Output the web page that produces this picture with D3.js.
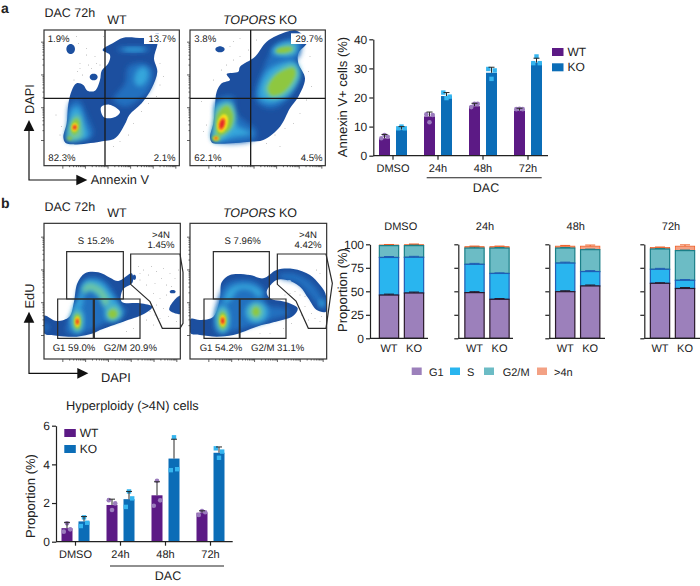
<!DOCTYPE html>
<html><head><meta charset="utf-8">
<script src="https://cdn.jsdelivr.net/npm/d3@7"></script>
<style>html,body{margin:0;background:#fff}svg{display:block}text{font-family:"Liberation Sans",Arial,sans-serif;fill:#222;text-rendering:geometricPrecision}</style>
</head><body><svg id="c" width="700" height="586"></svg>
<script>
// ---------- DATA ----------
const groups=["DMSO","24h","48h","72h"];
const genotypes=["WT","KO"];
const annexinWT=[6.0,13.5,17.0,15.5];
const annexinKO=[9.0,20.5,28.5,32.0];
const annexinWTPts=[[6,7.1,6.5],[14.2,11.5,14],[16.7,17.8,17.8],[16,16.1,16]];
const annexinKOPts=[[9.4,10,9.4],[21.7,19.8,20.3],[29.8,26.4,29.3],[31.8,34.1,31.8]];
const annexinWTErr=[7.3,15,18,16.3];
const annexinKOErr=[10,21.7,30.4,33.5];
const hyperWT=[0.7,1.9,2.4,1.5];
const hyperKO=[1.05,2.2,4.3,4.6];
const hyperWTPts=[[0.52,0.95,0.64],[2.15,1.64,1.98],[1.86,3.15,2.14],[1.38,1.59,1.52]];
const hyperKOPts=[[0.81,1.26,0.98],[1.8,2.6,2.24],[3.7,5.4,3.75],[4.83,4.34,4.66]];
const hyperWTErr=[1.0,2.2,3.1,1.6];
const hyperKOErr=[1.3,2.6,5.3,4.9];
const phases=["G1","S","G2/M",">4n"];
// order: DMSO WT, DMSO KO, 24h WT, 24h KO, 48h WT, 48h KO, 72h WT, 72h KO
const phaseG1=[46,48.2,48.6,41.5,49.6,55.7,58.5,53];
const phaseS=[40,38,30.1,27.5,30.4,15.3,14.9,8.7];
const phaseG2M=[12.6,12.4,17.3,27,16,23.3,21.6,31.6];
const phaseGt4=[0.7,1,1.5,1.5,2,3.7,1.5,4.7];
const phaseErr=[[1,1,1,0.5],[1,1,1,0.7],[1,1,1,0.6],[0.8,0.6,0.6,0.6],[1,1,0.6,0.8],[1,1,0.6,1.2],[0.6,1,0.6,0.6],[1,0.8,0.6,1.4]];

// density contours, in crop-reading units (3 units = 1 px)
const oval=(cx,cy,rx,ry,rot=0)=>d3.range(10).map(i=>{const t=i/10*2*Math.PI,r=rot*Math.PI/180,a=rx*Math.cos(t),b=ry*Math.sin(t);return[cx+a*Math.cos(r)-b*Math.sin(r),cy+a*Math.sin(r)+b*Math.cos(r)];});
const densityAWT=[
 [0,[[190,412],[196,428],[218,433],[300,425],[345,415],[375,372],[388,345],[425,310],[455,265],[472,215],[462,175],[472,135],[476,100],[440,113],[370,113],[338,130],[308,150],[330,165],[325,190],[305,212],[300,240],[285,272],[262,272],[250,255],[230,250],[215,272],[205,312],[200,370]]],
 [0,oval(281,231,12,10)],[0,oval(212,147,13,15)],
 ["w",[[303,322],[328,314],[360,335],[345,351],[312,352]]],
 [1,[[340,300],[375,250],[385,200],[430,190],[458,210],[450,265],[415,300],[375,320]]],
 [1,oval(400,148,50,10)],
 [2,oval(402,149,34,5)],
 [2,oval(424,230,20,30,20)],
 [1,[[210,310],[235,300],[262,350],[280,405],[240,422],[200,422],[204,370]]],
 [2,[[213,330],[235,320],[252,365],[265,410],[235,418],[203,420],[208,370]]],
 [3,[[217,355],[236,345],[246,385],[245,412],[215,420],[205,405]]],
 [4,oval(226,380,12,24,10)],
 [4,oval(209,415,8,6)],
 [5,oval(224,382,9,13,10)],
 [6,oval(224,382,7,9,10)],
 [7,oval(224,382,4,5,10)],
];
const densityAKO=[
 [0,[[630,412],[636,428],[660,431],[750,425],[790,420],[840,380],[870,325],[895,290],[915,235],[895,190],[895,160],[922,125],[890,92],[860,95],[800,125],[765,170],[720,200],[715,215],[680,222],[690,240],[665,250],[650,275],[645,320],[640,370]]],
 [0,oval(660,148,14,9)],
 [1,[[650,300],[700,290],[710,340],[770,395],[760,420],[660,428],[636,415],[645,360]]],
 [1,[[765,290],[790,205],[830,135],[900,115],[900,165],[880,190],[895,230],[865,295],[820,325],[780,315]]],
 [2,[[775,280],[805,210],[885,185],[900,220],[865,285],[810,310],[780,298]]],
 [2,[[815,155],[835,132],[890,128],[885,162],[840,168]]],
 [2,[[648,315],[690,305],[710,375],[755,400],[700,412],[645,425],[638,410],[645,360]]],
 [3,[[795,270],[820,225],[880,195],[895,225],[860,280],[815,295]]],
 [3,[[825,155],[850,138],[882,138],[882,155],[845,162]]],
 [3,[[652,325],[690,310],[706,345],[695,385],[645,420],[642,390]]],
 [4,[[805,265],[830,225],[880,205],[885,225],[850,275],[815,285]]],
 [4,oval(852,150,25,8,-8)],
 [4,[[652,345],[680,318],[698,345],[688,388],[655,405],[650,380]]],
 [5,oval(668,370,15,28,15)],
 [6,oval(666,372,10,20,15)],
 [7,oval(666,372,6,14,15)],
 [4,oval(648,415,12,8)],
 [5,oval(648,415,8,6)],
 [7,oval(648,415,4,4)],
];
const densityBWT=[
 [0,[[132,362],[170,378],[208,365],[222,320],[232,265],[255,235],[295,232],[330,248],[355,258],[395,235],[398,262],[368,285],[365,320],[420,325],[457,335],[430,358],[370,380],[300,405],[280,415],[230,425],[170,422],[132,415]]],
 [0,oval(403,247,5,8)],[0,oval(518,290,9,5)],
 [0,[[548,300],[526,312],[508,345],[548,356]]],
 [1,[[225,350],[235,285],[258,250],[300,250],[335,280],[362,335],[380,342],[362,372],[320,382],[290,398],[230,418],[200,412],[205,375]]],
 [1,[[132,385],[150,395],[132,410]]],
 [2,[[240,300],[255,260],[300,260],[332,295],[365,350],[352,375],[322,375],[310,325],[280,290],[255,290],[245,335],[220,345]]],
 [2,oval(232,375,20,40)],
 [3,[[248,280],[265,265],[303,278],[328,320],[315,335],[295,298],[270,284],[252,295]]],
 [3,[[322,345],[345,333],[362,358],[348,371],[327,373]]],
 [3,oval(232,378,14,30)],
 [4,oval(338,357,13,13)],
 [4,oval(232,380,10,23)],
 [5,oval(232,380,7,16)],
 [6,oval(232,380,5,11)],
 [7,oval(232,380,3,7)],
];
const densityBKO=[
 [0,[[572,372],[600,375],[640,365],[660,310],[665,262],[690,240],[750,240],[790,250],[830,225],[880,222],[930,240],[960,270],[976,295],[978,350],[950,345],[925,310],[900,275],[860,255],[830,255],[800,290],[810,310],[860,322],[893,340],[880,362],[820,382],[770,395],[700,420],[650,425],[600,420],[572,415]]],
 [0,oval(576,395,6,20)],
 ["w",oval(705,320,11,11)],
 ["w",oval(868,260,6,5)],
 [1,[[642,398],[652,320],[682,265],[750,255],[792,282],[798,328],[858,342],[866,355],[800,378],[700,408],[652,413]]],
 [1,[[835,240],[880,235],[928,258],[955,288],[968,315],[972,340],[955,332],[925,295],[890,262],[842,250]]],
 [2,[[672,330],[682,288],[710,270],[760,272],[786,292],[778,308],[750,286],[715,286],[695,312]]],
 [2,oval(668,372,21,43)],
 [2,oval(770,352,35,32)],
 [2,oval(966,325,8,11)],
 [3,oval(668,374,15,33)],
 [3,oval(768,350,21,23)],
 [4,oval(668,376,11,25)],
 [4,oval(768,350,10,13)],
 [5,oval(668,377,8,17)],
 [6,oval(668,377,6,12)],
 [7,oval(668,378,4,8)],
];
const dotsAWT=[[205,115],[235,130],[260,145],[285,170],[240,190],[265,195],[290,190],[232,215],[248,225],[222,240],[260,165],[300,195],[275,205],[240,205],[480,190],[490,230],[480,255],[470,290],[445,310],[425,335],[400,370],[385,405],[360,425],[340,440],[180,405],[185,380],[168,345],[465,130],[230,110],[310,110]];
const dotsAKO=[[690,140],[700,125],[720,115],[745,150],[720,170],[700,180],[680,195],[665,210],[640,240],[605,305],[930,170],[925,215],[935,260],[920,300],[900,340],[880,370],[855,385],[825,405],[800,430],[840,440],[610,395],[620,375],[770,120],[630,115]];
const dotsBWT=[[415,215],[430,225],[445,240],[470,230],[490,220],[510,235],[420,255],[440,270],[465,265],[485,250],[500,270],[525,250],[460,295],[480,310],[500,300],[515,275],[470,330],[490,340],[505,365],[480,370],[465,360],[420,235],[455,215],[535,225],[450,350],[460,390],[440,375],[400,400],[380,410],[530,380]];
const dotsBKO=[[950,225],[960,235],[855,300],[870,295],[885,290],[900,300],[915,335],[935,355],[945,370],[960,380],[925,375],[905,360],[875,385],[850,400],[810,415],[780,415],[940,330],[965,365],[915,305]];

const palette=["#1d4f9f","#2470bf","#35a6dc","#6fc7a2","#8ec740","#f7e61f","#f6901e","#e3202a"];
const colWT="#5c1a85",colKO="#0b6db7",ptWT="#9b7cbd",ptKO="#35b5ef";
const phaseFill=["#9c80bb","#29b5ef","#6cbcc5","#f3a184"];
const phaseStroke=["#2a1a2c","#1f5fb5","#1b7f88","#ee5f27"];

// ---------- SCALES ----------
const svg=d3.select("#c");
const defs=svg.append("defs");
const blurDef=(id,s)=>defs.append("filter").attr("id",id).attr("x","-40%").attr("y","-40%").attr("width","180%").attr("height","180%").append("feGaussianBlur").attr("stdDeviation",s);
blurDef("b0",0.7);blurDef("b1",2.6);blurDef("b2",1.6);blurDef("b3",0.8);
const blurOf=l=>l==="w"||l===0?"url(#b0)":l<=3?"url(#b1)":l==4?"url(#b2)":"url(#b3)";
const sx=d3.scaleLinear().domain([0,1020]).range([0,340]);
const syA=d3.scaleLinear().domain([0,570]).range([0,190]);
const syB=d3.scaleLinear().domain([0,540]).range([195,375]);
const F="#222";

function txt(x,y,s,o={}){const t=svg.append("text").attr("x",x).attr("y",y).attr("font-size",o.size||11).attr("text-anchor",o.anchor||"start").text(s);
 if(o.bold)t.attr("font-weight","bold"); if(o.rot!=null)t.attr("transform",`rotate(${o.rot} ${x} ${y})`); return t;}

function flow(id,sy,box,layers,dots,major){
 const [x0,y0,x1,y1]=box;
 defs.append("clipPath").attr("id",id).append("rect").attr("x",sx(x0)).attr("y",sy(y0)).attr("width",sx(x1)-sx(x0)).attr("height",sy(y1)-sy(y0));
 const g=svg.append("g").attr("clip-path",`url(#${id})`);
 g.selectAll("circle").data(dots).join("circle").attr("cx",d=>sx(d[0])).attr("cy",d=>sy(d[1])).attr("r",0.45).attr("fill","#777");
 const line=d3.line().x(d=>sx(d[0])).y(d=>sy(d[1])).curve(d3.curveCatmullRomClosed.alpha(0.5));
 g.append("g").selectAll("path").data(layers).join("path").attr("d",d=>line(d[1])).attr("fill",d=>d[0]==="w"?"#fff":palette[d[0]]).attr("filter",d=>blurOf(d[0]));
 const ly=d3.scaleLog().domain([1,1e3]).range([sy(major[1]),sy(major[0])]);
 const lx=d3.scaleLog().domain([1,1e5]).range([sx(x0+55),sx(x1-12)]);
 const yt=ly.ticks().filter(v=>ly(v)>sy(y0)), xt=lx.ticks();
 const isMaj=v=>Math.abs(Math.log10(v)%1)<1e-6;
 const gy=svg.append("g").attr("transform",`translate(${sx(x0)},0)`).call(d3.axisLeft(ly).tickValues(yt).tickFormat("").tickSize(1.5));
 gy.select(".domain").remove(); gy.selectAll("line").attr("x2",d=>isMaj(d)?-3:-1.5).attr("stroke",F).attr("stroke-width",.7);
 const gx=svg.append("g").attr("transform",`translate(0,${sy(y1)})`).call(d3.axisBottom(lx).tickValues(xt).tickFormat("").tickSize(1.5));
 gx.select(".domain").remove(); gx.selectAll("line").attr("y2",d=>isMaj(d)?3:1.5).attr("stroke",F).attr("stroke-width",.7);
 svg.append("rect").attr("x",sx(x0)).attr("y",sy(y0)).attr("width",sx(x1)-sx(x0)).attr("height",sy(y1)-sy(y0)).attr("fill","none").attr("stroke","#333").attr("stroke-width",1.2);
}
const pl=(sy,pts,w=1.2,c="#2b2b2b")=>svg.append("path").attr("d",d3.line().x(d=>sx(d[0])).y(d=>sy(d[1])).curve(d3.curveLinearClosed)(pts)).attr("fill","none").attr("stroke",c).attr("stroke-width",w);
const hv=(sy,a,b,w=1.3)=>svg.append("line").attr("x1",sx(a[0])).attr("y1",sy(a[1])).attr("x2",sx(b[0])).attr("y2",sy(b[1])).attr("stroke","#1a1a1a").attr("stroke-width",w);

// Panel a flow
flow("fa1",syA,[132,90,538,497],densityAWT,dotsAWT,[125,420]);
flow("fa2",syA,[570,90,976,497],densityAKO,dotsAKO,[125,420]);
hv(syA,[315,90],[315,497]);hv(syA,[132,295],[538,295]);
hv(syA,[752,90],[752,497]);hv(syA,[570,295],[976,295]);
svg.append("rect").attr("x",sx(432)).attr("y",syA(100)).attr("width",sx(98)).attr("height",syA(32)).attr("fill","#fff");
svg.append("rect").attr("x",sx(873)).attr("y",syA(100)).attr("width",sx(99)).attr("height",syA(32)).attr("fill","#fff");
txt(1,13,"a",{size:14,bold:true});
txt(44.5,17,"DAC 72h",{size:12.5});
txt(117,24,"WT",{size:12.5,anchor:"middle"});
const ko=(x,y)=>{const t=txt(x,y,"",{size:12.5,anchor:"middle"});t.append("tspan").attr("font-style","italic").text("TOPORS");t.append("tspan").text(" KO");};
ko(260,24);
[["1.9%",143,125,"start"],["13.7%",527,125,"end"],["82.3%",145,482,"start"],["2.1%",527,482,"end"],["3.8%",583,125,"start"],["29.7%",968,125,"end"],["62.1%",583,482,"start"],["4.5%",968,482,"end"]].forEach(d=>txt(sx(d[1]),syA(d[2]),d[0],{size:9.6,anchor:d[3]}));
function arrows(sy,vTop,corner,hEnd){
 const cx=87;
 svg.append("path").attr("d",d3.line().x(d=>sx(d[0])).y(d=>sy(d[1]))([[cx,vTop+30],[cx,corner],[hEnd-30,corner]])).attr("fill","none").attr("stroke","#111").attr("stroke-width",1.2);
 const tri=d3.line().x(d=>sx(d[0])).y(d=>sy(d[1]));
 svg.append("path").attr("d",tri([[cx-16,vTop+33],[cx+16,vTop+33],[cx,vTop]])+"Z").attr("fill","#111");
 svg.append("path").attr("d",tri([[hEnd-33,corner-16],[hEnd-33,corner+16],[hEnd,corner]])+"Z").attr("fill","#111");
}
arrows(syA,360,540,262);
txt(90.7,184,"Annexin V",{size:12.8});
txt(34,99,"DAPI",{size:12.8,anchor:"middle",rot:-90});

// Panel b flow
flow("fb1",syB,[132,85,541,492],densityBWT,dotsBWT,[125,420]);
flow("fb2",syB,[570,85,980,492],densityBKO,dotsBKO,[125,420]);
const rectG=(a,b,c,d)=>pl(syB,[[a,b],[c,b],[c,d],[a,d]]);
rectG(200,170,370,312);rectG(173,312,280,430);rectG(283,312,420,430);
pl(syB,[[392,177],[540,177],[549,232],[549,385],[540,400],[487,400],[450,320],[392,268]]);
rectG(640,170,808,312);rectG(612,312,718,430);rectG(720,312,858,430);
pl(syB,[[832,177],[978,177],[997,265],[978,400],[925,400],[888,318],[832,268]]);
txt(1,207.5,"b",{size:14,bold:true});
txt(44.5,210.5,"DAC 72h",{size:12.5});
txt(117,216.5,"WT",{size:12.5,anchor:"middle"});
ko(260,216.5);
[["S 15.2%",288,147],[">4N",483,130],["1.45%",483,160],["G1 59.0%",222,467],["G2/M 20.9%",391,467],["S 7.96%",728,147],[">4N",924,130],["4.42%",924,160],["G1 54.2%",663,467],["G2/M 31.1%",833,467]].forEach(d=>txt(sx(d[1]),syB(d[2]),d[0],{size:9.6,anchor:"middle"}));
arrows(syB,350,535,265);
txt(101,382,"DAPI",{size:12.8});
txt(34,296,"EdU",{size:12.8,anchor:"middle",rot:-90});

// ---------- BAR CHARTS ----------
function barChart(o){
 const y=d3.scaleLinear().domain([0,o.max]).range([o.y0,o.y1]);
 const outer=d3.scaleBand().domain(groups).range([o.gc-22.5,o.gc+157.5]);
 const inner=d3.scaleBand().domain(genotypes).range([0,34]).paddingInner(6/17).paddingOuter(3/17);
 const series=[["WT",o.wt,o.wtP,o.wtE,colWT,ptWT],["KO",o.ko,o.koP,o.koE,colKO,ptKO]];
 series.forEach(([name,vals,pts,errs,col,pc])=>{
  const base=g=>outer(g)+outer.bandwidth()/2-17+inner(name);
  const w=inner.bandwidth();
  svg.append("g").selectAll("rect").data(groups).join("rect").attr("x",base).attr("width",w).attr("y",(g,i)=>y(vals[i])).attr("height",(g,i)=>y(0)-y(vals[i])).attr("fill",col);
  const pg=svg.append("g").attr("fill",pc);
  groups.forEach((g,i)=>pts[i].forEach((v,j)=>{const c=base(g)+w/2+(j-1)*3.2;
   if(name==="WT")pg.append("circle").attr("cx",c).attr("cy",y(v)).attr("r",2.3);
   else pg.append("rect").attr("x",c-2.2).attr("y",y(v)-2.2).attr("width",4.4).attr("height",4.4);
  }));
  const eb=svg.append("g").attr("stroke","#2a2a2a").attr("stroke-width",1);
  groups.forEach((g,i)=>{const c=base(g)+w/2;
   eb.append("line").attr("x1",c).attr("x2",c).attr("y1",y(vals[i])).attr("y2",y(errs[i]));
   eb.append("line").attr("x1",c-3).attr("x2",c+3).attr("y1",y(errs[i])).attr("y2",y(errs[i]));
  });
 });
 const ay=svg.append("g").attr("transform",`translate(${o.ax},0)`).call(d3.axisLeft(y).tickValues(o.ticks).tickFormat(d3.format("d")).tickSize(4).tickSizeOuter(0));
 ay.select(".domain").attr("stroke","#222").attr("stroke-width",1.2);
 ay.selectAll(".tick line").attr("stroke","#222").attr("stroke-width",1.2);
 ay.selectAll("text").attr("font-size",12).attr("font-family","Liberation Sans").attr("dx",1);
 const ax=svg.append("g").attr("transform",`translate(0,${o.y0})`).call(d3.axisBottom(outer).tickSize(4).tickSizeOuter(0));
 ax.select(".domain").attr("d",`M${o.ax},0H${o.axEnd}`).attr("stroke","#222").attr("stroke-width",1.2);
 ax.selectAll(".tick line").attr("stroke","#222").attr("stroke-width",1.2);
 ax.selectAll("text").attr("font-size",11).attr("font-family","Liberation Sans").attr("y",8.5).attr("dy","0.71em");
 svg.append("line").attr("x1",o.lx0).attr("x2",o.lx1).attr("y1",o.ly).attr("y2",o.ly).attr("stroke","#222").attr("stroke-width",1.1);
 txt(o.dacX,o.ly+14,"DAC",{size:12.5,anchor:"middle"});
 genotypes.forEach((n,i)=>{
  svg.append("rect").attr("x",o.legX).attr("y",o.legY+i*o.legStep).attr("width",11.5).attr("height",8).attr("fill",i?colKO:colWT);
  txt(o.legX+15.5,o.legY+8+i*o.legStep,n,{size:12});
 });
 txt(o.titleX,o.titleY,o.title,{size:13,anchor:"middle",rot:-90});
}
barChart({max:40,y0:155.7,y1:39.3,gc:393,ax:373.3,axEnd:548,ticks:[0,10,20,30,40],wt:annexinWT,ko:annexinKO,wtP:annexinWTPts,koP:annexinKOPts,wtE:annexinWTErr,koE:annexinKOErr,lx0:426.7,lx1:541.7,ly:177.7,dacX:486,legX:552,legY:48,legStep:15.3,titleX:347,titleY:97,title:"Annexin V+ cells (%)"});
barChart({max:6,y0:541.7,y1:425.7,gc:75.5,ax:56,axEnd:232.7,ticks:[0,2,4,6],wt:hyperWT,ko:hyperKO,wtP:hyperWTPts,koP:hyperKOPts,wtE:hyperWTErr,koE:hyperKOErr,lx0:110,lx1:224,ly:566,dacX:168,legX:64.3,legY:429,legStep:16,titleX:35,titleY:496,title:"Proportion (%)"});
txt(66,410,"Hyperploidy (>4N) cells",{size:12.8});

// ---------- STACKED ----------
const yS=d3.scaleLinear().domain([0,100]).range([338.3,244.3]);
const stackAxisX=[370,458.3,549.3,644.3];
const stackStart=[376.5,462,552.7,647.5];
const stackEnd=[428,513,605,700];
const stackTitleX=[400.7,485,575.7,671];
groups.forEach((g,gi)=>{
 const xb=d3.scaleBand().domain(genotypes).range([stackStart[gi],stackStart[gi]+50]).paddingInner(0.228).paddingOuter(0.114);
 genotypes.forEach((n,bi)=>{
  const k=gi*2+bi, vals=[phaseG1[k],phaseS[k],phaseG2M[k],phaseGt4[k]];
  let acc=0; const w=xb.bandwidth();
  const tops=vals.map(v=>{const a=acc;acc+=v;return[a,acc];});
  tops.map((d,i)=>[d,i]).reverse().forEach(([d,i])=>{
   svg.append("rect").attr("x",xb(n)).attr("width",w).attr("y",yS(d[1])).attr("height",yS(d[0])-yS(d[1])).attr("fill",phaseFill[i]).attr("stroke",phaseStroke[i]).attr("stroke-width",i==3?0.8:1.2);
  });
  tops.forEach((d,i)=>{const c=xb(n)+w/2,e=yS(d[1]+phaseErr[k][i]);
   svg.append("line").attr("x1",c).attr("x2",c).attr("y1",yS(d[1])).attr("y2",e).attr("stroke",phaseStroke[i]).attr("stroke-width",1);
   svg.append("line").attr("x1",c-5).attr("x2",c+5).attr("y1",e).attr("y2",e).attr("stroke",phaseStroke[i]).attr("stroke-width",1);
  });
 });
 const a=d3.axisLeft(yS).tickValues([0,25,50,75,100]).tickSize(4).tickSizeOuter(0);
 if(gi)a.tickFormat("");
 const ay=svg.append("g").attr("transform",`translate(${stackAxisX[gi]},0)`).call(a);
 ay.select(".domain").attr("stroke","#222").attr("stroke-width",1.2);
 ay.selectAll("line").attr("stroke","#222").attr("stroke-width",1.2);
 ay.selectAll("text").attr("font-size",12).attr("font-family","Liberation Sans").attr("dx",1);
 svg.append("line").attr("x1",stackAxisX[gi]).attr("x2",stackEnd[gi]).attr("y1",yS(0)).attr("y2",yS(0)).attr("stroke","#222").attr("stroke-width",1.2);
 const xa=svg.append("g").attr("transform",`translate(0,${yS(0)})`).call(d3.axisBottom(xb).tickSize(0));
 xa.select(".domain").remove();
 xa.selectAll("text").attr("font-size",11).attr("font-family","Liberation Sans").attr("y",6).attr("dy","0.71em");
 txt(stackTitleX[gi],230,g,{size:11,anchor:"middle"});
});
txt(347,290,"Proportion (%)",{size:13,anchor:"middle",rot:-90});
const legSq=[411.7,450,484,537],legTx=[429,467,502.7,554];
phases.forEach((p,i)=>{
 svg.append("rect").attr("x",legSq[i]).attr("y",367.5).attr("width",10).attr("height",7.5).attr("fill",phaseFill[i]);
 txt(legTx[i],375.5,p,{size:11});
});
</script></body></html>
